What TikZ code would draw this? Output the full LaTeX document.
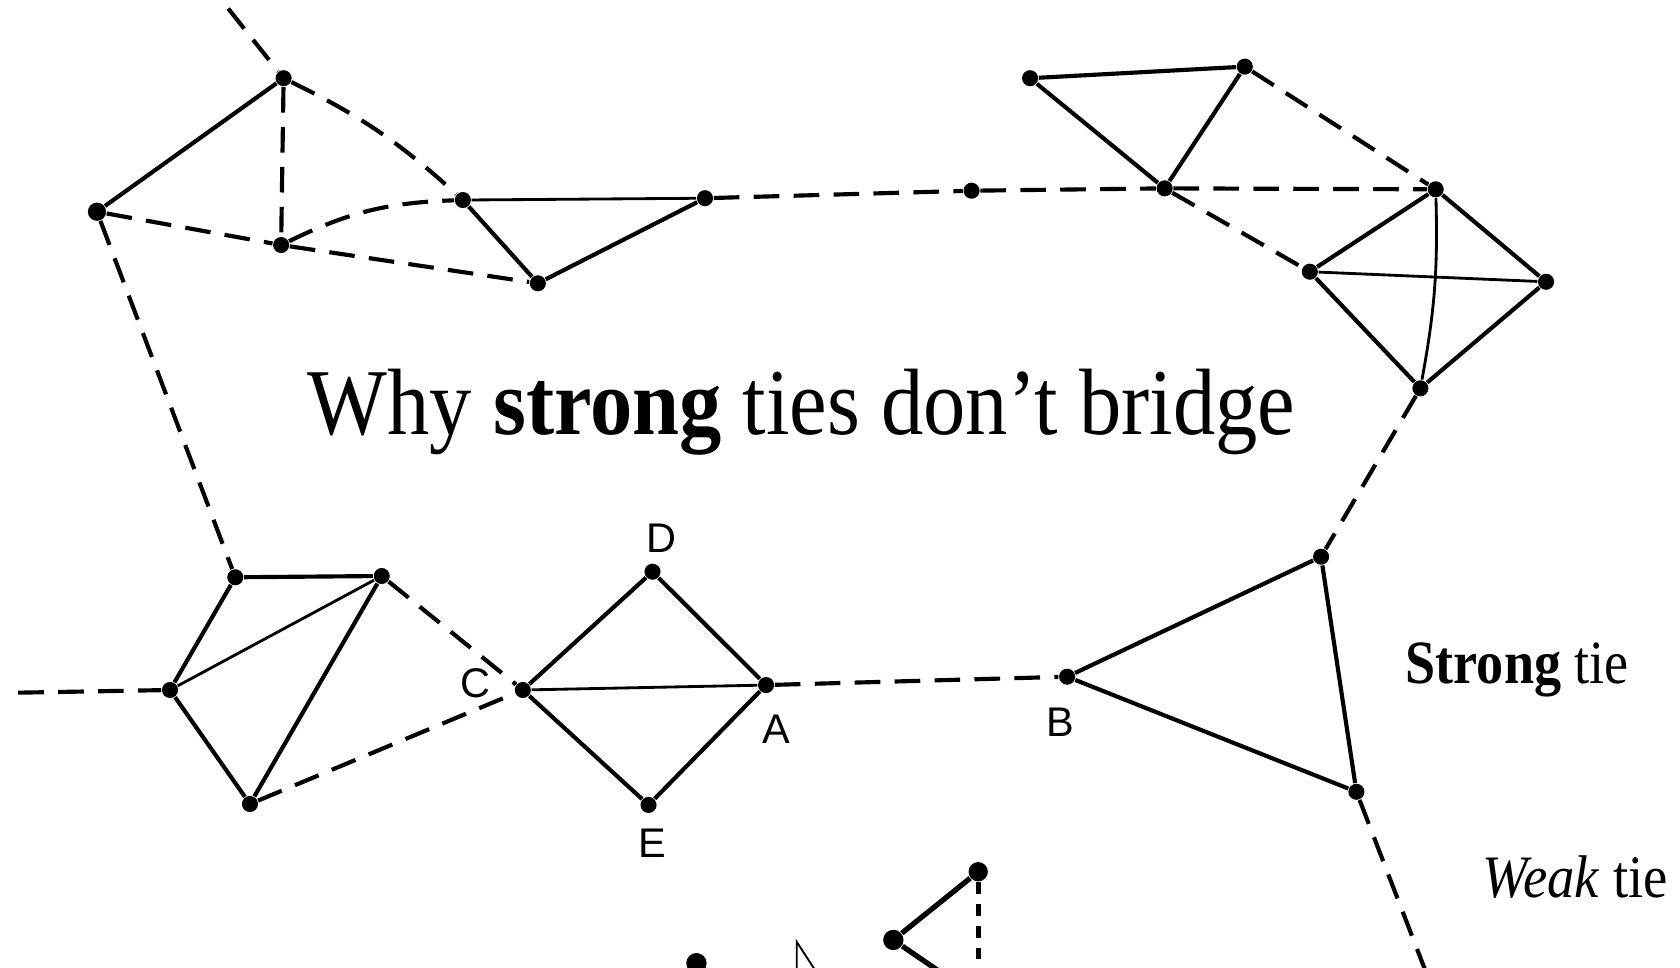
\documentclass[tikz,border=0pt]{standalone}
\usepackage{fontspec}
\setmainfont{Liberation Serif}
\newfontfamily\letterfont{Liberation Sans}
\usepackage{graphicx}
\usepackage{tikz}
\usetikzlibrary{positioning}

\begin{document}
\begin{tikzpicture}[
  x=0.01cm, y=-0.01cm,
  dot/.style={circle, fill=black, inner sep=0pt, minimum size=0.15cm},
  bigdot/.style={dot, minimum size=0.19cm},
  strong/.style={draw=black, line width=1.1pt},
  faint/.style={draw=black, line width=0.75pt},
  weak/.style={draw=black, line width=1.1pt, dash pattern=on 6.8pt off 3.8pt},
  letter/.style={font=\letterfont\fontsize{11}{13}\selectfont, inner sep=0pt},
  iconline/.style={draw=black, line width=1.4pt},
  icondash/.style={draw=black, line width=1.4pt, dash pattern=on 3.1pt off 2.7pt},
  cursor/.style={draw=black, line width=0.5pt},
]
\useasboundingbox (0,0) rectangle (1568,903);
\clip (0,0) rectangle (1568,903);

% Upper left cluster.
\node[dot, minimum size=0.17cm] (l1) at (90.5,197.6) {};
\node[dot] (l2) at (264.7,73) {};
\node[dot] (l3) at (262.4,228.7) {};
\node[dot] (l4) at (432,186.7) {};
\node[dot] (l5) at (502,264.4) {};
\node[dot] (l6) at (658,185) {};
\coordinate (topend) at (213,8);

% A lone person on the long bridge.
\node[dot] (m1) at (906.8,178) {};

% Upper right cluster.
\node[dot] (r1) at (961.4,73) {};
\node[dot] (r2) at (1161.8,62.2) {};
\node[dot] (r3) at (1087,175.8) {};
\node[dot] (r4) at (1340,176.7) {};
\node[dot] (r5) at (1222.5,253.6) {};
\node[dot] (r6) at (1443,263) {};
\node[dot] (r7) at (1325.7,362.4) {};

% Lower left cluster.
\node[dot] (p1) at (219.6,538.8) {};
\node[dot] (p2) at (356.3,537.6) {};
\node[dot] (p3) at (158.7,644) {};
\node[dot] (p4) at (233.3,750.4) {};
\coordinate (leftend) at (17,646.5);

% The diamond C, D, A, E.
\node[dot] (c) at (488,644) {};
\node[dot] (d) at (609,533.6) {};
\node[dot] (a) at (715,639.4) {};
\node[dot] (e) at (605.3,751.3) {};

% Lower right triangle around B.
\node[dot] (b) at (996,631.6) {};
\node[dot] (t1) at (1233,519.6) {};
\node[dot] (t2) at (1266,739) {};
\coordinate (bottomend) at (1330,905);

% Letters.
\node[letter] (clabel) at (444,638) {C};
\node[letter] (dlabel) at (617.5,502) {D};
\node[letter] (alabel) at (725,681) {A};
\node[letter] (elabel) at (609,787) {E};
\node[letter] (blabel) at (990,674) {B};

% Strong ties.
\foreach \u/\v in {l1/l2, l4/l5, l5/l6, r1/r2, r1/r3, r2/r3, r4/r5, r4/r6,
                   r5/r7, r6/r7, p1/p2, p1/p3, p2/p4, p3/p4,
                   c/d, d/a, c/e, e/a, b/t1, b/t2, t1/t2} {
  \draw[strong] (\u) -- (\v);
}
\foreach \u/\v in {l4/l6, r5/r6, p2/p3, c/a} {
  \draw[faint] (\u) -- (\v);
}
\draw[faint] (r4) to[bend left=6] (r7);

% Weak ties.
\foreach \u/\v in {l1/l3, l3/l5, l2/l3, l1/p1, l6/m1, m1/r3, r3/r4, r3/r5,
                   r2/r4, r7/t1, leftend/p3, p2/c, p4/c, a/b, t2/bottomend} {
  \draw[weak] (\u) -- (\v);
}
\draw[weak] (topend) -- (l2);
\draw[weak] (l2) to[bend left=8] (l4);
\draw[weak] (l3) to[bend left=12] (l4);

% Title and legend.
\node[anchor=base west, inner sep=0pt] (title) at (286.5,406)
  {\resizebox{9.21cm}{0.61cm}{Why \textbf{strong} ties don’t bridge}};
\node[anchor=base west, inner sep=0pt] (strongtie) at (1311.4,637.5)
  {\resizebox{2.08cm}{0.38cm}{\textbf{Strong} tie}};
\node[anchor=base west, inner sep=0pt] (weaktie) at (1383,837.5)
  {\resizebox{1.73cm}{0.39cm}{\textit{Weak} tie}};

% Icons at the bottom edge.
\node[bigdot] (q1) at (650,899) {};
\node[bigdot] (q2) at (833.8,877.3) {};
\node[bigdot, minimum size=0.18cm] (q3) at (913,813.6) {};
\coordinate (q2end) at (886,913);
\coordinate (q3end) at (913,915);
\draw[iconline] (q2) -- (q3);
\draw[iconline] (q2) -- (q2end);
\draw[icondash] (q3) -- (q3end);
\coordinate (cursortip) at (743.6,879);
\draw[cursor] (743.6,910) -- (cursortip) -- (765,912);
\end{tikzpicture}
\end{document}
